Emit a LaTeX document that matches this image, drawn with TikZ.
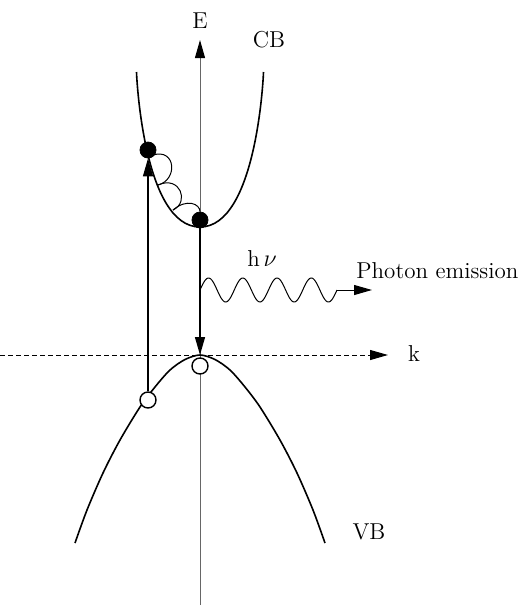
\documentclass[tikz,border=0pt]{standalone}
\usepackage{tikz}
\usetikzlibrary{arrows.meta}
\tikzset{
  fdot/.style={circle, fill=black, draw=black, minimum size=8pt, inner sep=0pt},
  hole/.style={circle, fill=white, draw=black, minimum size=8pt, inner sep=0pt, line width=0.7pt},
  band/.style={draw=black, line width=0.8pt},
  ax/.style={draw=black!60, line width=0.5pt},
  tri/.style={-{Triangle[length=9pt,width=5pt,color=black]}},
  hop/.style={draw=black, line width=0.5pt},
  lbl/.style={font=\fontsize{11.5}{13}\selectfont, inner sep=1pt}
}
\begin{document}
\begin{tikzpicture}[x=0.5pt, y=-0.5pt]
        \useasboundingbox (0,0) rectangle (528,607);
        % axes
        \coordinate (ybot) at (200,605);
        \coordinate (ytop) at (200,40);
        \coordinate (kl) at (0,355);
        \coordinate (kr) at (388,355);
        \draw[ax, tri] (ybot)--(ytop);
        \draw[draw=black, line width=0.5pt, dash pattern=on 2.5pt off 1.5pt, tri] (kl)--(kr);
        % bands
        \draw[band] (136.5,72) .. controls (136.5,74) and (143,227) .. (200,227)
          .. controls (257,227) and (263.5,74) .. (263.5,72);
        \draw[band] plot[smooth] coordinates {(75,543) (87,510) (103,473) (120,440) (140,407) (155,387) (170,370) (185,359.5)
          (200,355) (215,359.5) (230,370) (245,387) (260,407) (280,440) (297,473) (313,510) (325,543)};
        % carriers
        \node[fdot] (e1) at (148,150) {};
        \node[fdot] (e2) at (200,220) {};
        \node[hole] (h1) at (148,400) {};
        \node[hole] (h2) at (200,366) {};
        \coordinate (vtop) at (200,355);
        \draw[line width=0.7pt, tri] (h1)--(e1);
        \draw[line width=0.7pt, tri] (e2)--(vtop);
        % relaxation hops
        \draw[hop] (153,155) .. controls (176,148) and (178,180) .. (158,185);
        \draw[hop] (158,185) .. controls (180,175) and (190,202) .. (173,210);
        \draw[hop] (173,210) .. controls (187,198) and (200,204) .. (e2);
        % photon
        \coordinate (w1) at (337,290);
        \coordinate (wtip) at (372,290);
        \draw[hop] plot[domain=0:137, samples=140] ({200+\x},{290-12*sin(10.511*\x)});
        \draw[hop, tri] (w1)--(wtip);
        % labels
        \node[lbl] (lE) at (200,21) {E};
        \node[lbl] (lCB) at (269,40) {CB};
        \node[lbl] (lk) at (414,354) {k};
        \node[lbl] (lVB) at (369,532) {VB};
        \node[lbl] (lhv) at (262,259) {h\,$\nu$};
        \node[lbl, anchor=west] (lph) at (354,271) {Photon emission};
      \end{tikzpicture}
\end{document}
